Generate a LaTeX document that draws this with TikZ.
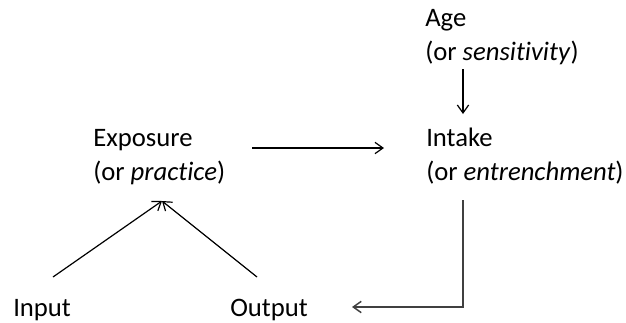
\documentclass[tikz,border=0pt]{standalone}
\usepackage{fontspec}
\setmainfont{Carlito}[Ligatures=NoCommon]
\usetikzlibrary{arrows.meta}
\begin{document}
\begin{tikzpicture}[x=0.75pt,y=-0.75pt,
  lbl/.style={anchor=base west,inner sep=0pt,font=\fontsize{20}{25.5}\selectfont},
  arr/.style={-{Straight Barb[length=6pt,width=8.5pt]},line width=0.9pt,black}]
\useasboundingbox (0,0) rectangle (626,322);
\node[lbl] (age) at (425,26) {\begin{tabular}[t]{@{}l@{}}Age\\(or \textit{sensitivity})\end{tabular}};
\node[lbl] (intake) at (426,146) {\begin{tabular}[t]{@{}l@{}}Intake\\(or \textit{entrenchment})\end{tabular}};
\node[lbl] (exposure) at (93,146) {\begin{tabular}[t]{@{}l@{}}Exposure\\(or \textit{practice})\end{tabular}};
\node[lbl] (input) at (13,316) {Input};
\node[lbl] (output) at (230,316) {Output};
\coordinate (ageout) at (463,69);
\coordinate (intakein) at (463,114);
\coordinate (expout) at (252,148);
\coordinate (intakeleft) at (384,148);
\coordinate (intakeout) at (463,200);
\coordinate (outputin) at (352,307);
\coordinate (expin) at (162,201);
\coordinate (inputout) at (53,277);
\coordinate (outputout) at (257,277);
\draw[arr] (ageout) -- (intakein);
\draw[arr] (expout) -- (intakeleft);
\draw[arr] (inputout) -- (expin);
\draw[arr] (outputout) -- (expin);
\draw[arr,draw={rgb,255:red,64;green,64;blue,64},line width=1.1pt] (intakeout) |- (outputin);
\end{tikzpicture}
\end{document}
